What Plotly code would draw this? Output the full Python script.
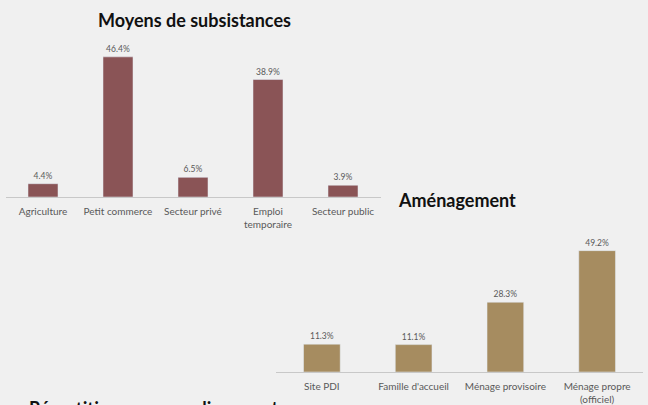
import plotly.graph_objects as go

# Data
subs_categories = ["Agriculture", "Petit commerce", "Secteur privé", "Emploi<br>temporaire", "Secteur public"]
subs_values = [4.4, 46.4, 6.5, 38.9, 3.9]

amen_categories = ["Site PDI", "Famille d'accueil", "Ménage provisoire", "Ménage propre<br>(officiel)"]
amen_values = [11.3, 11.1, 28.3, 49.2]

titles = ["Moyens de subsistances", "Aménagement", "Répartition par arrondissement"]

W, H = 648, 405
BG = "#f0f0f0"
TXT = "#595959"
FONT = "Lato, 'Open Sans', sans-serif"

fig = go.Figure()
fig.add_trace(go.Bar(
    x=subs_categories, y=subs_values, xaxis="x", yaxis="y",
    marker_color="#8a5456", width=0.4,
    text=[f"{v:.1f}%" for v in subs_values], textposition="outside",
    textfont=dict(size=8.5, color=TXT, family=FONT), cliponaxis=False,
))
fig.add_trace(go.Bar(
    x=amen_categories, y=amen_values, xaxis="x2", yaxis="y2",
    marker_color="#a68c60", width=0.4,
    text=[f"{v:.1f}%" for v in amen_values], textposition="outside",
    textfont=dict(size=8.5, color=TXT, family=FONT), cliponaxis=False,
))

def fx(px):
    return px / W

def fy(py):
    return (H - py) / H

axis_common = dict(showline=True, linecolor="#c8c8c8", linewidth=1, ticks="",
                   tickfont=dict(size=10, color=TXT, family=FONT), fixedrange=True,
                   showgrid=False, zeroline=False, tickangle=0, ticklabelstandoff=5)
yaxis_common = dict(visible=False, showgrid=False, zeroline=False, fixedrange=True)

fig.update_layout(
    width=W, height=H, margin=dict(l=0, r=0, t=0, b=0),
    paper_bgcolor=BG, plot_bgcolor="rgba(0,0,0,0)",
    showlegend=False, bargap=0.6,
    font=dict(family=FONT, color=TXT),
    xaxis=dict(domain=[fx(5.5), fx(380.5)], anchor="y", **axis_common),
    yaxis=dict(domain=[fy(197), fy(46)], range=[0, 50], anchor="x", **yaxis_common),
    xaxis2=dict(domain=[fx(276), fx(643)], anchor="y2", **axis_common),
    yaxis2=dict(domain=[fy(372), fy(224)], range=[0, 60], anchor="x2", **yaxis_common),
    annotations=[
        dict(text=f"<b>{titles[0]}</b>", x=fx(194), y=fy(20), xref="paper", yref="paper",
             xanchor="center", yanchor="middle", showarrow=False,
             font=dict(size=18, color="#111111", family=FONT)),
        dict(text=f"<b>{titles[1]}</b>", x=fx(396), y=fy(200), xref="paper", yref="paper",
             xanchor="left", yanchor="middle", showarrow=False,
             font=dict(size=18, color="#111111", family=FONT)),
        dict(text=f"<b>{titles[2]}</b>", x=fx(27), y=fy(395), xref="paper", yref="paper",
             xanchor="left", yanchor="top", showarrow=False,
             font=dict(size=18, color="#111111", family=FONT)),
    ],
)

fig.write_html(
    "out.html",
    config={"displayModeBar": False},
    post_script="document.body.style.margin='0';document.body.style.padding='0';"
                "document.body.style.background='%s';" % BG,
)
